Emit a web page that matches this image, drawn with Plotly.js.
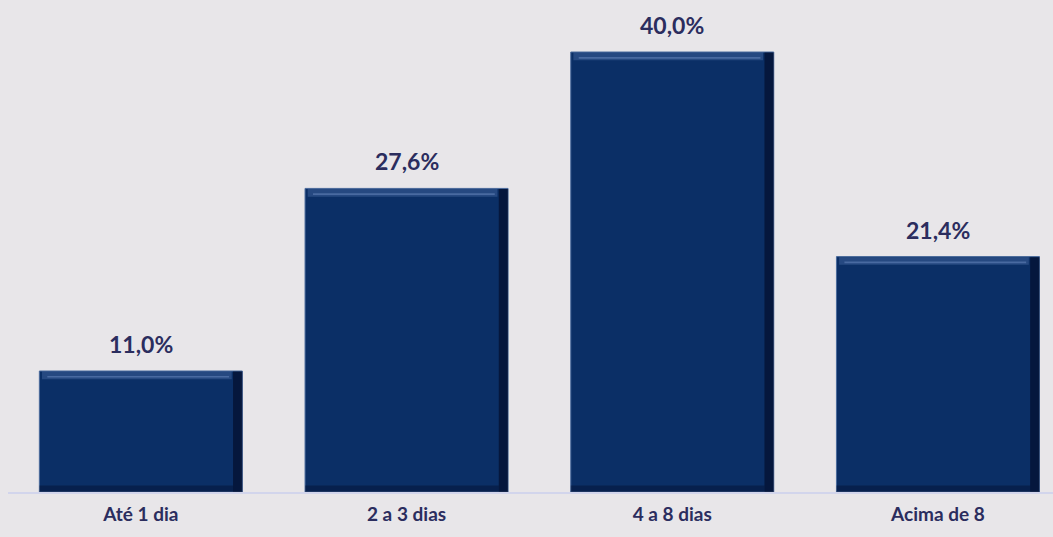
<!DOCTYPE html>
<html><head><meta charset="utf-8">
<script src="https://cdn.plot.ly/plotly-3.0.1.min.js"></script>
<style>html,body{margin:0;padding:0;background:#E8E6E9;}#chart{width:1053px;height:537px;}</style>
</head><body><div id="chart"></div>
<script>
const categories = ["Até 1 dia", "2 a 3 dias", "4 a 8 dias", "Acima de 8"];
const values = [11.0, 27.6, 40.0, 21.4];
const labels = ["11,0%", "27,6%", "40,0%", "21,4%"];

const navy = "#0B2F66";
const textColor = "#2B2D5E";
const bw = 0.764;

const trace = {
  type: "bar", x: categories, y: values, width: bw,
  marker: {color: navy, line: {color: "#4A6A9C", width: 1}},
  hoverinfo: "skip"
};

const shapes = [];
categories.forEach((c, i) => {
  // bevel highlight band near top
  shapes.push({type: "rect", xref: "x", yref: "y", x0: i - bw/2 + 0.01, x1: i + bw/2 - 0.04,
    y0: values[i] - 0.75, y1: values[i] - 0.05, fillcolor: "rgba(110,145,200,0.28)", line: {width: 0}});
  shapes.push({type: "rect", xref: "x", yref: "y", x0: i - bw/2 + 0.03, x1: i + bw/2 - 0.05,
    y0: values[i] - 0.6, y1: values[i] - 0.45, fillcolor: "rgba(140,170,220,0.35)", line: {width: 0}});
  // dark right edge
  shapes.push({type: "rect", xref: "x", yref: "y", x0: i + bw/2 - 0.035, x1: i + bw/2,
    y0: 0, y1: values[i] - 0.05, fillcolor: "rgba(0,0,20,0.5)", line: {width: 0}});
  // dark bottom edge
  shapes.push({type: "rect", xref: "x", yref: "y", x0: i - bw/2, x1: i + bw/2 - 0.035,
    y0: 0, y1: 0.6, fillcolor: "rgba(0,0,20,0.3)", line: {width: 0}});
});

const annotations = categories.map((c, i) => ({
  x: c, y: values[i], xref: "x", yref: "y", text: "<b>" + labels[i] + "</b>",
  showarrow: false, yanchor: "bottom", yshift: 11,
  font: {family: "Lato, 'Open Sans', sans-serif", size: 23, color: textColor, weight: "bold"}
}));

const layout = {
  width: 1053, height: 537,
  paper_bgcolor: "#E8E6E9", plot_bgcolor: "#E8E6E9",
  margin: {l: 8, r: 0, t: 0, b: 45},
  showlegend: false,
  xaxis: {range: [-0.5, 3.433], showgrid: false, zeroline: false,
    showline: true, linecolor: "#D2D5EC", linewidth: 2, ticks: "", ticklabelstandoff: 4,
    tickfont: {family: "Lato, 'Open Sans', sans-serif", size: 19, color: textColor, weight: "bold"}},
  yaxis: {range: [0, 44.73], visible: false, showgrid: false, zeroline: false},
  shapes: shapes,
  annotations: annotations
};

Plotly.newPlot("chart", [trace], layout, {displayModeBar: false, staticPlot: true});
</script>
</body></html>
